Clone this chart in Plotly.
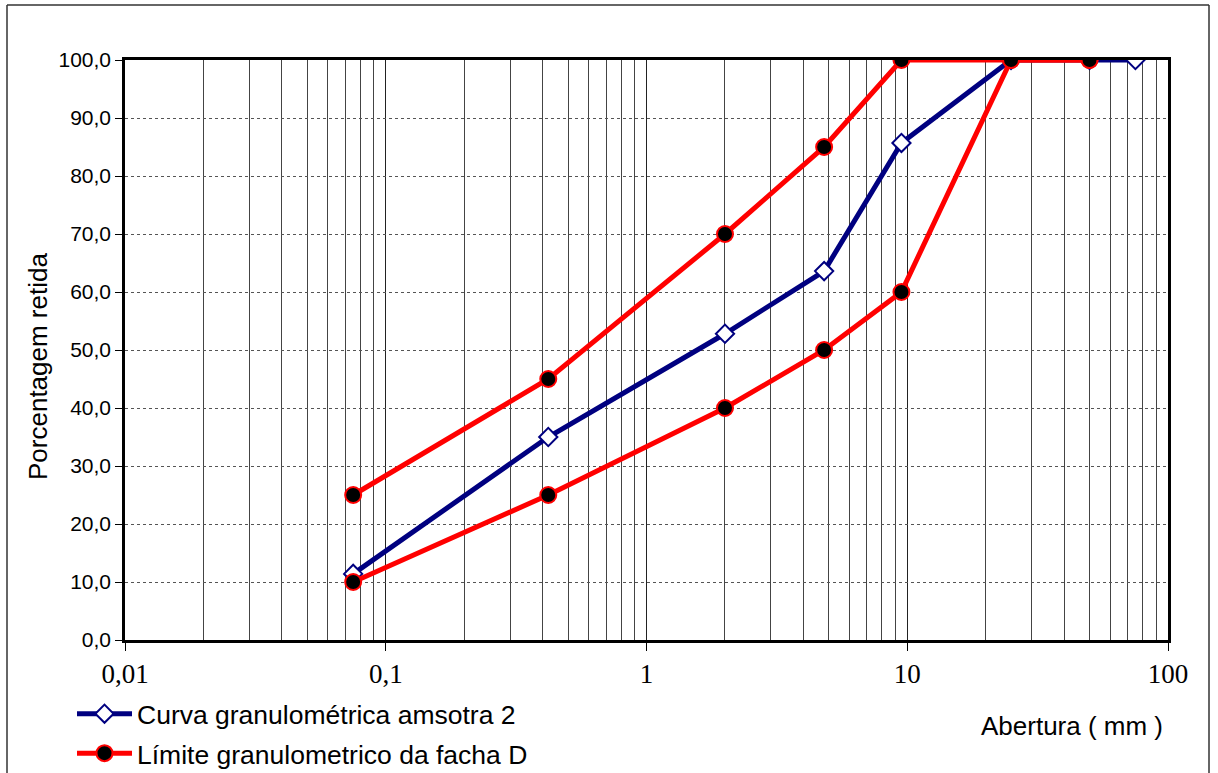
import plotly.graph_objects as go

# sieve openings (mm)
sieves_sample = [0.075, 0.42, 2.0, 4.8, 9.5, 25, 50, 75]
pct_sample = [11.4, 35.0, 52.8, 63.6, 85.7, 100.0, 100.0, 100.0]

sieves_upper = [0.075, 0.42, 2.0, 4.8, 9.5, 25, 50]
pct_upper = [25, 45, 70, 85, 100, 100, 100]

sieves_lower = [0.075, 0.42, 2.0, 4.8, 9.5, 25, 50]
pct_lower = [10, 25, 40, 50, 60, 100, 100]

name_sample = "Curva granulométrica amsotra 2"
name_limit = "Límite granulometrico da facha D"

W, H = 1218, 773
L, R, T, B = 125, 50, 60, 133
pw, ph = W - L - R, H - T - B

def px(x):
    return (x - L) / pw

def py(y):
    return (H - B - y) / ph

fig = go.Figure()

fig.add_trace(go.Scatter(
    x=sieves_sample, y=pct_sample, name=name_sample, mode="lines+markers",
    line=dict(color="#000080", width=5),
    marker=dict(symbol="diamond", size=14, color="white", line=dict(color="#000080", width=2)),
    legendgroup="a",
))
fig.add_trace(go.Scatter(
    x=sieves_lower, y=pct_lower, name=name_limit, mode="lines+markers",
    line=dict(color="#FF0000", width=5),
    marker=dict(symbol="circle", size=16, color="black", line=dict(color="#FF0000", width=2)),
    legendgroup="b",
))
fig.add_trace(go.Scatter(
    x=sieves_upper, y=pct_upper, name=name_limit, mode="lines+markers",
    line=dict(color="#FF0000", width=5),
    marker=dict(symbol="circle", size=16, color="black", line=dict(color="#FF0000", width=2)),
    legendgroup="b", showlegend=False,
))

fig.update_layout(
    width=W, height=H,
    margin=dict(l=L, r=R, t=T, b=B, autoexpand=False),
    paper_bgcolor="white", plot_bgcolor="white",
    separators=",.",
    font=dict(family="Arial, Liberation Sans, sans-serif", color="black"),
    showlegend=True,
    legend=dict(
        x=px(72), y=py(690), xanchor="left", yanchor="top",
        font=dict(size=26.5, family="Arial, Liberation Sans, sans-serif"),
        bgcolor="rgba(0,0,0,0)", traceorder="grouped", tracegroupgap=2,
        itemwidth=55,
    ),
    xaxis=dict(
        type="log", range=[-2, 2], dtick=1,
        showline=True, linecolor="black", linewidth=2.5, mirror=True,
        ticks="outside", ticklen=8, tickcolor="black", tickwidth=1,
        tickfont=dict(family="Times New Roman, Liberation Serif, serif", size=27),
        showgrid=True, gridcolor="#222222", gridwidth=1,
        minor=dict(showgrid=True, gridcolor="#444444", gridwidth=1, ticks=""),
        zeroline=False,
    ),
    yaxis=dict(
        range=[0, 100], dtick=10, tickformat=".1f",
        showline=True, linecolor="black", linewidth=2.5, mirror=True,
        ticks="outside", ticklen=7, tickcolor="black", tickwidth=1,
        tickfont=dict(size=21),
        showgrid=True, gridcolor="#555555", gridwidth=1, griddash="dot",
        zeroline=False,
    ),
    annotations=[
        dict(text="Porcentagem retida", xref="paper", yref="paper",
             x=px(38), y=py(367), textangle=-90, showarrow=False,
             font=dict(size=26), xanchor="center", yanchor="middle"),
        dict(text="Abertura ( mm )", xref="paper", yref="paper",
             x=px(1072), y=py(726), showarrow=False,
             font=dict(size=26), xanchor="center", yanchor="middle"),
    ],
    shapes=[
        dict(type="line", xref="paper", yref="paper", x0=px(7), x1=px(1209), y0=py(5), y1=py(5),
             line=dict(color="#333333", width=1.5)),
        dict(type="line", xref="paper", yref="paper", x0=px(7), x1=px(7), y0=py(5), y1=py(780),
             line=dict(color="#333333", width=1.5)),
        dict(type="line", xref="paper", yref="paper", x0=px(1209), x1=px(1209), y0=py(5), y1=py(780),
             line=dict(color="#333333", width=1.5)),
    ],
)

fig.write_html("out.html")
